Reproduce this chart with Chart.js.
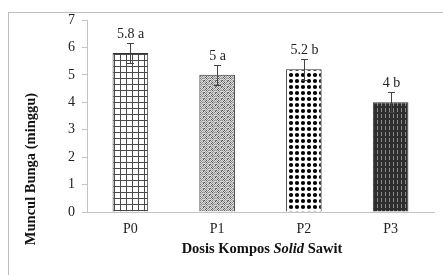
<!DOCTYPE html>
<html lang="id">
<head>
  <meta charset="UTF-8">
  <title>Muncul Bunga</title>
  <script src="https://cdn.jsdelivr.net/npm/chart.js"></script>
  <style>
    body {
      margin: 0;
      background: #fff;
      overflow: hidden;
    }
    .frame {
      position: absolute;
      left: 8px;
      top: 12px;
      width: 500px;
      height: 300px;
      border: 1px solid #bdbdbd;
    }
    canvas {
      position: absolute;
      left: 0;
      top: 0;
    }
  </style>
</head>
<body>
  <div class="frame"></div>
  <canvas id="chart" width="443" height="275"></canvas>

  <script>
    const categories = ['P0', 'P1', 'P2', 'P3'];
    const means = [5.8, 5, 5.2, 4];
    const errors = [0.37, 0.37, 0.38, 0.36];
    const letters = ['a', 'a', 'b', 'b'];
    const yTicks = [0, 1, 2, 3, 4, 5, 6, 7];

    const serif = '"Liberation Serif", "Times New Roman", serif';

    function tile(w, h, draw) {
      const c = document.createElement('canvas');
      c.width = w;
      c.height = h;
      draw(c.getContext('2d'));
      return c.getContext('2d').createPattern(c, 'repeat');
    }

    // P0: grid
    const gridPat = tile(6, 6, g => {
      g.fillStyle = '#fff';
      g.fillRect(0, 0, 6, 6);
      g.fillStyle = '#4a4a4a';
      g.fillRect(0, 0, 6, 1);
      g.fillRect(0, 0, 1, 6);
    });

    // P1: speckle
    const speck = [
      [1, 0, 2, 0, 1, 3],
      [0, 3, 0, 1, 0, 0],
      [2, 0, 1, 0, 3, 1],
      [0, 1, 0, 3, 0, 2],
      [3, 0, 2, 0, 1, 0],
      [0, 2, 0, 1, 0, 3]
    ];
    const speckShades = ['#dcdcdc', '#8a8a8a', '#555', '#adadad'];
    const speckPat = tile(6, 6, g => {
      speck.forEach((row, r) => row.forEach((v, c) => {
        g.fillStyle = speckShades[v];
        g.fillRect(c, r, 1, 1);
      }));
    });

    // P2: black dots
    const dotPat = tile(6, 6, g => {
      g.fillStyle = '#fff';
      g.fillRect(0, 0, 6, 6);
      g.fillStyle = '#000';
      g.beginPath();
      g.arc(3, 3, 2.1, 0, Math.PI * 2);
      g.fill();
    });

    // P3: dark with light vertical dashes
    const darkPat = tile(4, 6, g => {
      g.fillStyle = '#2e2e2e';
      g.fillRect(0, 0, 4, 6);
      g.fillStyle = '#8a8a8a';
      g.fillRect(1, 0, 1, 4);
    });

    const fills = [gridPat, speckPat, dotPat, darkPat];

    const extras = {
      id: 'extras',
      afterDatasetsDraw(chart) {
        const ctx = chart.ctx;
        const x = chart.scales.x;
        const y = chart.scales.y;
        ctx.save();
        ctx.strokeStyle = '#444';
        ctx.lineWidth = 1;
        means.forEach((m, i) => {
          const px = Math.round(x.getPixelForValue(i)) + 0.5;
          const top = Math.round(y.getPixelForValue(m + errors[i])) + 0.5;
          const bot = Math.round(y.getPixelForValue(m - errors[i])) + 0.5;
          ctx.beginPath();
          ctx.moveTo(px, top);
          ctx.lineTo(px, bot);
          ctx.moveTo(px - 3.5, top);
          ctx.lineTo(px + 3.5, top);
          ctx.moveTo(px - 3.5, bot);
          ctx.lineTo(px + 3.5, bot);
          ctx.stroke();

          ctx.fillStyle = '#222';
          ctx.font = '14px ' + serif;
          ctx.textAlign = 'center';
          ctx.textBaseline = 'alphabetic';
          ctx.fillText(m + ' ' + letters[i], px, top - 6);
        });
        ctx.restore();
      },
      afterDraw(chart) {
        const ctx = chart.ctx;
        ctx.save();
        ctx.fillStyle = '#111';
        ctx.textBaseline = 'middle';

        // x title with italic word
        const parts = [
          ['bold 14.5px ' + serif, 'Dosis Kompos '],
          ['italic bold 14.5px ' + serif, 'Solid'],
          ['bold 14.5px ' + serif, ' Sawit']
        ];
        let total = 0;
        parts.forEach(p => { ctx.font = p[0]; total += ctx.measureText(p[1]).width; });
        let cx = 262 - total / 2;
        ctx.textAlign = 'left';
        parts.forEach(p => {
          ctx.font = p[0];
          ctx.fillText(p[1], cx, 249);
          cx += ctx.measureText(p[1]).width;
        });

        // y title
        ctx.translate(31, 169);
        ctx.rotate(-Math.PI / 2);
        ctx.font = 'bold 14.5px ' + serif;
        ctx.textAlign = 'center';
        ctx.fillText('Muncul Bunga (minggu)', 0, 0);
        ctx.restore();
      }
    };

    new Chart(document.getElementById('chart'), {
      type: 'bar',
      data: {
        labels: categories,
        datasets: [{
          data: means,
          backgroundColor: fills,
          borderColor: '#333',
          borderWidth: 1,
          categoryPercentage: 1,
          barPercentage: 0.41
        }]
      },
      options: {
        responsive: false,
        animation: false,
        layout: { padding: { left: 0, top: 20, right: 9, bottom: 0 } },
        plugins: {
          legend: { display: false },
          tooltip: { enabled: false }
        },
        scales: {
          x: {
            grid: { display: false, drawTicks: false },
            border: { display: true, color: '#c4c4c4', width: 1 },
            ticks: {
              padding: 9,
              color: '#222',
              font: { family: serif, size: 14 }
            },
            afterFit(scale) { scale.height = 63; }
          },
          y: {
            min: 0,
            max: 7,
            afterBuildTicks(scale) {
              scale.ticks = yTicks.map(v => ({ value: v }));
            },
            grid: {
              drawOnChartArea: false,
              drawTicks: true,
              tickLength: 5,
              color: '#c4c4c4'
            },
            border: { display: true, color: '#c4c4c4', width: 1 },
            ticks: {
              padding: 7,
              color: '#222',
              font: { family: serif, size: 14 }
            },
            afterFit(scale) { scale.width = 87; }
          }
        }
      },
      plugins: [extras]
    });
  </script>
</body>
</html>
